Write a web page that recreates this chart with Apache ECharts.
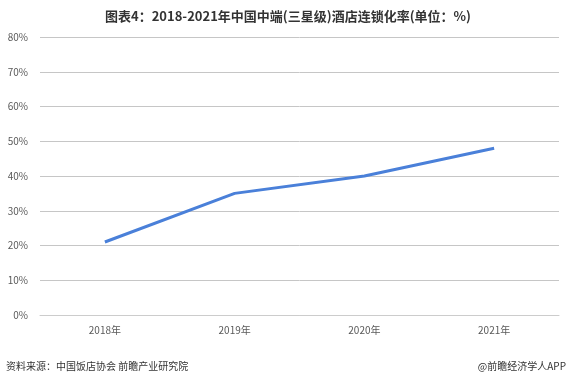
<!DOCTYPE html>
<html><head><meta charset="utf-8">
<script src="https://cdn.jsdelivr.net/npm/echarts@6/dist/echarts.min.js"></script>
<style>html,body{margin:0;padding:0;background:#fff}#c{width:576px;height:381px}</style>
</head><body><div id="c"></div>
<script>
const categories = ['2018年', '2019年', '2020年', '2021年'];
const values = [21, 35, 40, 48];
const yTicks = [0, 10, 20, 30, 40, 50, 60, 70, 80];
const titleText = '图表4：2018-2021年中国中端(三星级)酒店连锁化率(单位：%)';
const sourceText = '资料来源：中国饭店协会 前瞻产业研究院';
const brandText = '@前瞻经济学人APP';

const chart = echarts.init(document.getElementById('c'));
chart.setOption({
  animation: false,
  title: {
    text: titleText, left: 'center', top: 5,
    textStyle: {fontSize: 13, fontWeight: 'bold', color: '#333', fontFamily: 'Noto Sans CJK SC'}
  },
  graphic: [
    {type: 'text', left: 6, top: 361, style: {text: sourceText, fontSize: 10, fill: '#333', fontFamily: 'Noto Sans CJK SC'}},
    {type: 'text', right: 10, top: 361, style: {text: brandText, fontSize: 10, fill: '#333', fontFamily: 'Noto Sans CJK SC'}}
  ],
  grid: {left: 40, right: 17, top: 37, bottom: 66, containLabel: false},
  xAxis: {
    type: 'category', data: categories, boundaryGap: true,
    axisLine: {show: true, lineStyle: {color: '#cccccc'}},
    axisTick: {show: false},
    axisLabel: {color: '#595959', fontSize: 10, margin: 10, fontFamily: 'Noto Sans CJK SC'}
  },
  yAxis: {
    type: 'value', min: yTicks[0], max: yTicks[yTicks.length - 1], interval: 10,
    axisLine: {show: false}, axisTick: {show: false},
    axisLabel: {color: '#595959', fontSize: 10, formatter: '{value}%', margin: 12, fontFamily: 'Noto Sans CJK SC'},
    splitLine: {lineStyle: {color: '#c6c6c6', width: 1}}
  },
  series: [{
    type: 'line', data: values, symbol: 'none', smooth: false,
    lineStyle: {color: '#4a80d9', width: 3}
  }]
});
</script></body></html>
